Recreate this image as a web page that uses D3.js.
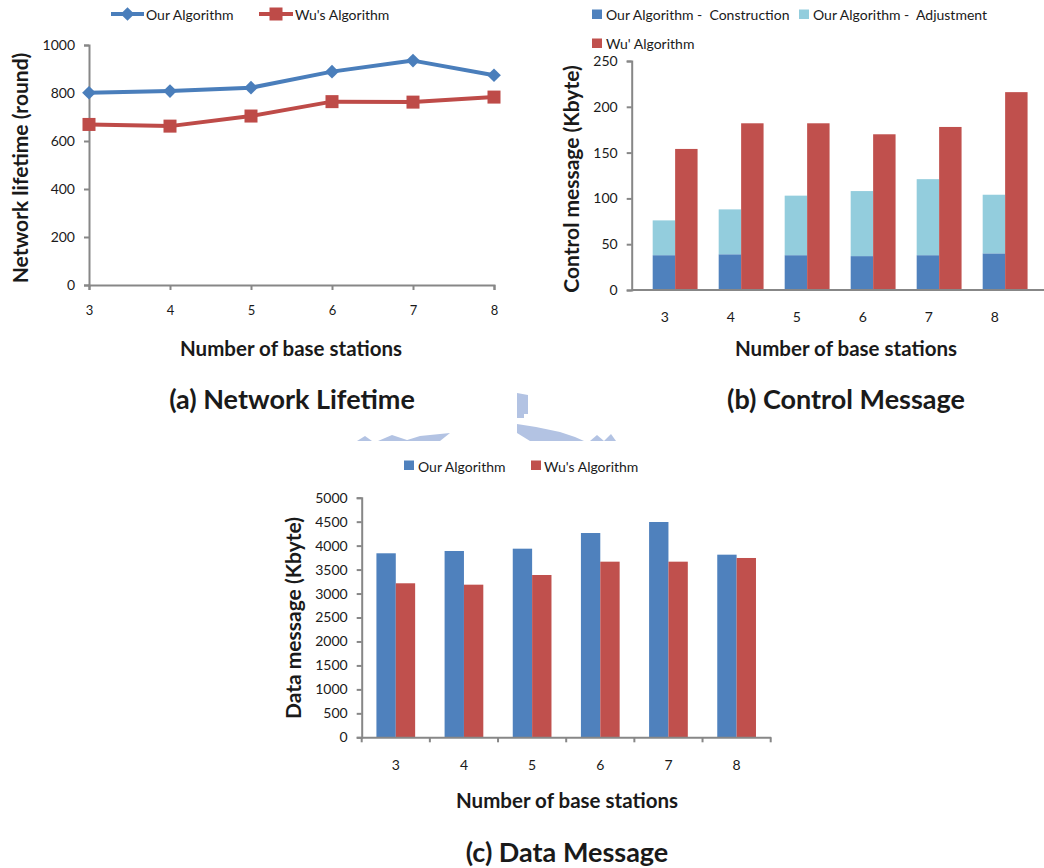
<!DOCTYPE html>
<html>
<head>
<meta charset="utf-8">
<script src="https://cdn.jsdelivr.net/npm/d3@7/dist/d3.min.js"></script>
<style>
  html, body { margin: 0; padding: 0; background: #fff; }
  svg { display: block; font-family: Lato, "Open Sans", sans-serif; }
</style>
</head>
<body>
<svg id="fig" width="1044" height="868"></svg>
<script>
// ---- data ----
const stations = ["3", "4", "5", "6", "7", "8"];

const lifetimeOurs = [801, 808, 822, 889, 935, 874];
const lifetimeWu   = [669, 662, 704, 764, 762, 783];
const lifetimeTicks = [0, 200, 400, 600, 800, 1000];

const ctrlConstruction = [38, 39, 38, 37, 38, 40];
const ctrlAdjustment   = [38, 49, 65, 71, 83, 64];
const ctrlWu           = [154, 182, 182, 170, 178, 216];
const ctrlTicks = [0, 50, 100, 150, 200, 250];

const dataOurs = [3840, 3888, 3936, 4263, 4493, 3811];
const dataWu   = [3214, 3185, 3387, 3665, 3665, 3742];
const dataTicks = [0, 500, 1000, 1500, 2000, 2500, 3000, 3500, 4000, 4500, 5000];

// ---- palette ----
const BLUE = "#4F81BD", RED = "#C0504D", AQUA = "#93CDDD";
const LINE_BLUE = "#4A7EBB", LINE_RED = "#BE4B48";
const AXIS = "#878787", INK = "#1a1a1a";

const svg = d3.select("#fig");

function text(g, x, y, str, opts = {}) {
  return g.append("text")
    .attr("x", x).attr("y", y)
    .attr("dominant-baseline", "central")
    .attr("text-anchor", opts.anchor || "middle")
    .attr("font-size", opts.size || 14)
    .attr("font-weight", opts.weight || "normal")
    .attr("fill", opts.fill || INK)
    .text(str);
}

function yAxis(g, y, ticks, x0) {
  const ax = g.append("g").attr("transform", `translate(${x0},0)`)
    .call(d3.axisLeft(y).tickValues(ticks).tickSize(5).tickPadding(9).tickFormat(d3.format("d")));
  ax.select(".domain").attr("stroke", AXIS).attr("stroke-width", 2);
  ax.selectAll(".tick line").attr("stroke", AXIS).attr("stroke-width", 2);
  ax.selectAll(".tick text").attr("font-size", 14).attr("fill", INK).attr("font-family", "Lato, sans-serif");
  return ax;
}

// ---- watermark fragments ----
const wm = svg.append("g").attr("fill", "#B3C3E3");
[
  [[517,393],[528,395],[528,414],[524,414],[524,418],[517,418]],
  [[517,424],[536,427],[560,432],[575,437],[584,441],[530,441],[517,433]],
  [[590,441],[597,435],[604,441]],
  [[604,441],[611,434],[616,441]],
  [[357,441],[365,436],[372,441]],
  [[378,441],[392,435],[410,441]],
  [[404,441],[420,436],[450,433],[440,441]]
].forEach(p => wm.append("polygon").attr("points", p.map(q => q.join(",")).join(" ")));

// =========== (a) Network Lifetime ===========
{
  const g = svg.append("g");
  const x = d3.scalePoint().domain(stations).range([89, 494]).padding(0);
  const y = d3.scaleLinear().domain([0, 1000]).range([285, 45]);

  yAxis(g, y, lifetimeTicks, 89);

  const xa = g.append("g").attr("transform", "translate(0,285)")
    .call(d3.axisBottom(x).tickSize(5).tickPadding(16));
  xa.select(".domain").attr("stroke", AXIS).attr("stroke-width", 2);
  xa.selectAll(".tick line").attr("stroke", AXIS).attr("stroke-width", 2);
  xa.selectAll(".tick text").attr("font-size", 13).attr("fill", INK).attr("font-family", "Lato, sans-serif");

  const line = d3.line().x((d, i) => x(stations[i])).y(d => y(d));
  g.append("path").datum(lifetimeOurs).attr("d", line)
    .attr("fill", "none").attr("stroke", LINE_BLUE).attr("stroke-width", 4).attr("stroke-linejoin", "round");
  g.append("path").datum(lifetimeWu).attr("d", line)
    .attr("fill", "none").attr("stroke", LINE_RED).attr("stroke-width", 4).attr("stroke-linejoin", "round");

  const diamond = d3.symbol().type(d3.symbolDiamond2).size(120);
  g.selectAll(".dia").data(lifetimeOurs).join("path")
    .attr("d", diamond)
    .attr("transform", (d, i) => `translate(${x(stations[i])},${y(d)})`)
    .attr("fill", LINE_BLUE);
  g.selectAll(".sq").data(lifetimeWu).join("rect")
    .attr("x", (d, i) => x(stations[i]) - 6.5).attr("y", d => y(d) - 6.5)
    .attr("width", 13).attr("height", 13).attr("fill", LINE_RED);

  // legend
  const lg = g.append("g");
  lg.append("line").attr("x1", 111).attr("x2", 144).attr("y1", 14).attr("y2", 14)
    .attr("stroke", LINE_BLUE).attr("stroke-width", 4);
  lg.append("path").attr("d", diamond).attr("transform", "translate(127.5,14)").attr("fill", LINE_BLUE);
  text(lg, 146, 14, "Our Algorithm", { anchor: "start", size: 14 });
  lg.append("line").attr("x1", 259).attr("x2", 293).attr("y1", 14).attr("y2", 14)
    .attr("stroke", LINE_RED).attr("stroke-width", 4);
  lg.append("rect").attr("x", 269.5).attr("y", 7.5).attr("width", 13).attr("height", 13).attr("fill", LINE_RED);
  text(lg, 295, 14, "Wu's Algorithm", { anchor: "start", size: 14 });

  text(g, 19, 168, "Network lifetime (round)", { size: 21, weight: "bold" })
    .attr("transform", "rotate(-90,19,168)");
  text(g, 291, 348, "Number of base stations", { size: 20.5, weight: "bold" });
  text(g, 292, 398, "(a) Network Lifetime", { size: 27, weight: "bold" });
}

// =========== (b) Control Message ===========
{
  const g = svg.append("g");
  const x = d3.scaleBand().domain(stations).range([631.7, 1027.7]).padding(0);
  const y = d3.scaleLinear().domain([0, 250]).range([290, 61]);
  const bw = x.bandwidth();
  const off = bw * 0.318, w = bw * 0.34;

  g.selectAll(".c").data(ctrlConstruction).join("rect")
    .attr("x", (d, i) => x(stations[i]) + off).attr("width", w)
    .attr("y", d => y(d)).attr("height", d => y(0) - y(d)).attr("fill", BLUE);
  g.selectAll(".a").data(ctrlAdjustment).join("rect")
    .attr("x", (d, i) => x(stations[i]) + off).attr("width", w)
    .attr("y", (d, i) => y(d + ctrlConstruction[i])).attr("height", d => y(0) - y(d)).attr("fill", AQUA);
  g.selectAll(".w").data(ctrlWu).join("rect")
    .attr("x", (d, i) => x(stations[i]) + off + w).attr("width", w)
    .attr("y", d => y(d)).attr("height", d => y(0) - y(d)).attr("fill", RED);

  yAxis(g, y, ctrlTicks, 631.7);
  g.append("line").attr("x1", 631.7).attr("x2", 1044).attr("y1", 290).attr("y2", 290)
    .attr("stroke", AXIS).attr("stroke-width", 2);
  stations.forEach(s => text(g, x(s) + bw / 2, 316, s, { size: 14 }));

  // legend
  const lg = g.append("g");
  lg.append("rect").attr("x", 592).attr("y", 9.5).attr("width", 10).attr("height", 9.5).attr("fill", BLUE);
  text(lg, 606, 14, "Our Algorithm -  Construction", { anchor: "start", size: 14 }).attr("xml:space", "preserve");
  lg.append("rect").attr("x", 799).attr("y", 9.5).attr("width", 10).attr("height", 9.5).attr("fill", AQUA);
  text(lg, 813, 14, "Our Algorithm -  Adjustment", { anchor: "start", size: 14 }).attr("xml:space", "preserve");
  lg.append("rect").attr("x", 592).attr("y", 38.5).attr("width", 10).attr("height", 9.5).attr("fill", RED);
  text(lg, 606, 43, "Wu' Algorithm", { anchor: "start", size: 14 });

  text(g, 570, 179, "Control message (Kbyte)", { size: 21, weight: "bold" })
    .attr("transform", "rotate(-90,570,179)");
  text(g, 846, 348, "Number of base stations", { size: 20.5, weight: "bold" });
  text(g, 846, 398, "(b) Control Message", { size: 27, weight: "bold" });
}

// =========== (c) Data Message ===========
{
  const g = svg.append("g");
  const x = d3.scaleBand().domain(stations).range([361.7, 770.7]).padding(0);
  const y = d3.scaleLinear().domain([0, 5000]).range([737.3, 497.7]);
  const bw = x.bandwidth();
  const w = bw * 0.284;

  g.selectAll(".o").data(dataOurs).join("rect")
    .attr("x", (d, i) => x(stations[i]) + bw / 2 - w).attr("width", w)
    .attr("y", d => y(d)).attr("height", d => y(0) - y(d)).attr("fill", BLUE);
  g.selectAll(".w").data(dataWu).join("rect")
    .attr("x", (d, i) => x(stations[i]) + bw / 2).attr("width", w)
    .attr("y", d => y(d)).attr("height", d => y(0) - y(d)).attr("fill", RED);

  yAxis(g, y, dataTicks, 361.7);
  const xa = g.append("g").attr("transform", "translate(0,737.3)")
    .call(d3.axisBottom(x).tickSize(0).tickPadding(0));
  xa.select(".domain").attr("stroke", AXIS).attr("stroke-width", 2);
  xa.selectAll(".tick").remove();
  // category boundary ticks
  const edges = stations.map(s => x(s)).concat([x.range()[1]]);
  g.selectAll(".edge").data(edges).join("line")
    .attr("x1", d => d).attr("x2", d => d).attr("y1", 737.3).attr("y2", 742.3)
    .attr("stroke", AXIS).attr("stroke-width", 2);
  stations.forEach(s => text(g, x(s) + bw / 2, 764, s, { size: 14 }));

  // legend
  const lg = g.append("g");
  lg.append("rect").attr("x", 404).attr("y", 460.5).attr("width", 10).attr("height", 9.5).attr("fill", BLUE);
  text(lg, 418, 466, "Our Algorithm", { anchor: "start", size: 14 });
  lg.append("rect").attr("x", 531).attr("y", 460.5).attr("width", 10).attr("height", 9.5).attr("fill", RED);
  text(lg, 544, 466, "Wu's Algorithm", { anchor: "start", size: 14 });

  text(g, 292, 618, "Data message (Kbyte)", { size: 21, weight: "bold" })
    .attr("transform", "rotate(-90,292,618)");
  text(g, 567, 800, "Number of base stations", { size: 20.5, weight: "bold" });
  text(g, 567, 851, "(c) Data Message", { size: 27, weight: "bold" });
}
</script>
</body>
</html>
